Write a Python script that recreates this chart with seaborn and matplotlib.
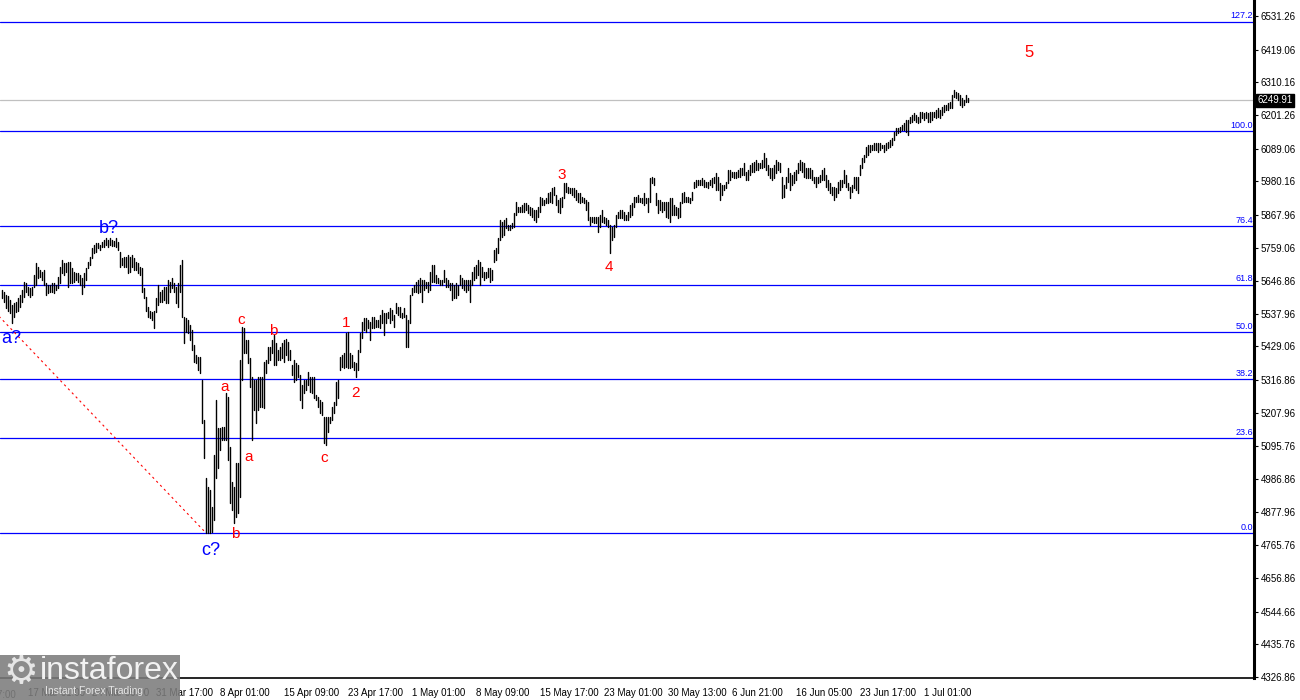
"""H4 Elliott wave chart with Fibonacci retracement grid (instaforex style)."""

import matplotlib
matplotlib.use("Agg")
import matplotlib.pyplot as plt
import matplotlib.transforms as mtransforms
from matplotlib.patches import Rectangle
import pandas as pd
import seaborn as sns

# ---- bar data (H4 highs / lows) ----
HIGH = [
    5618, 5612, 5601, 5597, 5584, 5567, 5573, 5579, 5590, 5601,
    5617, 5645, 5640, 5629, 5623, 5629, 5668, 5706, 5695, 5684,
    5679, 5684, 5640, 5634, 5634, 5640, 5640, 5634, 5662, 5695,
    5718, 5706, 5706, 5712, 5712, 5690, 5679, 5673, 5673, 5668,
    5656, 5673, 5690, 5712, 5729, 5756, 5768, 5773, 5773, 5768,
    5779, 5784, 5790, 5784, 5790, 5784, 5782, 5790, 5779, 5745,
    5723, 5729, 5729, 5734, 5729, 5734, 5723, 5712, 5706, 5695,
    5690, 5623, 5595, 5562, 5549, 5545, 5549, 5590, 5634, 5612,
    5616, 5629, 5629, 5651, 5645, 5656, 5640, 5629, 5640, 5701,
    5718, 5529, 5523, 5517, 5501, 5484, 5434, 5401, 5395, 5395,
    5317, 5184, 4990, 4961, 4950, 4895, 5067, 5251, 5156, 5156,
    5162, 5162, 5273, 5262, 5095, 4978, 4961, 5039, 5040, 5384,
    5494, 5491, 5450, 5450, 5391, 5327, 5317, 5317, 5327, 5327,
    5327, 5377, 5384, 5427, 5427, 5450, 5467, 5440, 5417, 5427,
    5440, 5450, 5454, 5444, 5417, 5367, 5384, 5374, 5367, 5334,
    5301, 5317, 5317, 5344, 5327, 5327, 5327, 5267, 5261, 5251,
    5244, 5194, 5194, 5194, 5194, 5227, 5244, 5311, 5317, 5394,
    5401, 5407, 5474, 5477, 5407, 5401, 5377, 5374, 5417, 5474,
    5511, 5524, 5524, 5517, 5511, 5527, 5527, 5517, 5517, 5534,
    5551, 5540, 5540, 5545, 5556, 5551, 5534, 5573, 5562, 5562,
    5540, 5556, 5534, 5517, 5601, 5623, 5634, 5645, 5651, 5656,
    5651, 5651, 5645, 5645, 5679, 5701, 5701, 5667, 5656, 5651,
    5651, 5684, 5656, 5651, 5640, 5640, 5634, 5640, 5634, 5667,
    5656, 5651, 5651, 5651, 5651, 5679, 5695, 5701, 5717, 5712,
    5695, 5679, 5679, 5690, 5690, 5684, 5751, 5756, 5790, 5851,
    5845, 5851, 5856, 5834, 5834, 5840, 5873, 5912, 5895, 5895,
    5901, 5906, 5906, 5901, 5895, 5890, 5884, 5884, 5895, 5929,
    5923, 5918, 5923, 5940, 5945, 5956, 5962, 5934, 5918, 5923,
    5929, 5973, 5973, 5962, 5956, 5956, 5956, 5951, 5940, 5940,
    5929, 5923, 5918, 5912, 5862, 5862, 5862, 5862, 5862, 5868,
    5884, 5862, 5856, 5851, 5834, 5829, 5834, 5868, 5879, 5884,
    5884, 5879, 5868, 5879, 5901, 5906, 5929, 5929, 5934, 5923,
    5923, 5940, 5923, 5923, 5990, 5995, 5990, 5940, 5918, 5918,
    5912, 5912, 5912, 5912, 5923, 5923, 5901, 5895, 5890, 5912,
    5940, 5945, 5929, 5929, 5923, 5945, 5979, 5984, 5984, 5984,
    5990, 5984, 5979, 5979, 5984, 5990, 5995, 6006, 5995, 5973,
    5968, 5968, 5979, 6018, 6018, 6012, 6012, 6012, 6018, 6023,
    6023, 6040, 6012, 6018, 6034, 6040, 6045, 6051, 6040, 6040,
    6051, 6073, 6057, 6034, 6023, 6023, 6034, 6051, 6045, 6040,
    5995, 5968, 5995, 6023, 6007, 6001, 6012, 6018, 6040, 6051,
    6045, 6040, 6023, 6023, 6023, 6018, 5995, 5995, 5995, 6001,
    6018, 6023, 6001, 5984, 5973, 5962, 5962, 5956, 5979, 5984,
    5984, 6018, 6001, 5973, 5962, 5968, 5995, 5995, 5995, 6034,
    6057, 6068, 6095, 6101, 6101, 6101, 6107, 6107, 6107, 6107,
    6101, 6101, 6107, 6112, 6118, 6123, 6145, 6157, 6157, 6162,
    6168, 6173, 6184, 6184, 6196, 6201, 6207, 6201, 6196, 6212,
    6212, 6207, 6212, 6207, 6212, 6212, 6212, 6218, 6223, 6218,
    6229, 6234, 6234, 6240, 6246, 6268, 6284, 6279, 6273, 6268,
    6257, 6251, 6268, 6257,
]
LOW = [
    5590, 5579, 5556, 5549, 5540, 5506, 5529, 5545, 5549, 5562,
    5579, 5595, 5612, 5601, 5595, 5601, 5629, 5634, 5656, 5662,
    5651, 5634, 5601, 5606, 5612, 5612, 5606, 5616, 5623, 5640,
    5673, 5668, 5679, 5629, 5640, 5640, 5645, 5651, 5645, 5634,
    5604, 5629, 5651, 5690, 5701, 5723, 5740, 5745, 5756, 5751,
    5762, 5762, 5768, 5762, 5768, 5764, 5764, 5762, 5751, 5695,
    5701, 5695, 5695, 5673, 5679, 5695, 5684, 5684, 5673, 5668,
    5612, 5590, 5549, 5529, 5523, 5517, 5490, 5545, 5567, 5579,
    5579, 5584, 5573, 5573, 5612, 5623, 5612, 5573, 5562, 5612,
    5529, 5440, 5478, 5473, 5451, 5417, 5378, 5373, 5351, 5339,
    5173, 5056, 4807, 4807, 4807, 4811, 4850, 4989, 5023, 5084,
    5117, 5117, 5117, 5050, 4906, 4884, 4839, 4861, 4874, 4927,
    5317, 5407, 5407, 5374, 5294, 5117, 5217, 5174, 5217, 5227,
    5227, 5224, 5341, 5374, 5384, 5407, 5367, 5367, 5384, 5384,
    5391, 5377, 5401, 5384, 5384, 5334, 5311, 5317, 5327, 5251,
    5224, 5274, 5284, 5301, 5277, 5274, 5257, 5251, 5227, 5207,
    5200, 5107, 5100, 5144, 5174, 5184, 5207, 5234, 5257, 5351,
    5361, 5357, 5361, 5357, 5357, 5361, 5351, 5327, 5351, 5411,
    5457, 5484, 5477, 5490, 5450, 5490, 5490, 5494, 5494, 5490,
    5507, 5467, 5507, 5523, 5507, 5517, 5495, 5540, 5534, 5528,
    5523, 5528, 5428, 5428, 5506, 5601, 5612, 5612, 5606, 5612,
    5579, 5617, 5623, 5612, 5617, 5645, 5645, 5640, 5640, 5634,
    5634, 5645, 5629, 5629, 5617, 5584, 5590, 5590, 5601, 5634,
    5623, 5617, 5612, 5617, 5579, 5634, 5651, 5656, 5667, 5634,
    5662, 5651, 5656, 5662, 5645, 5651, 5712, 5717, 5740, 5784,
    5795, 5801, 5823, 5817, 5817, 5823, 5829, 5868, 5879, 5879,
    5879, 5879, 5884, 5873, 5868, 5862, 5851, 5845, 5862, 5879,
    5901, 5901, 5906, 5906, 5912, 5906, 5934, 5901, 5879, 5873,
    5895, 5923, 5945, 5940, 5940, 5934, 5929, 5918, 5912, 5906,
    5912, 5906, 5884, 5851, 5834, 5845, 5840, 5840, 5812, 5829,
    5845, 5840, 5834, 5829, 5740, 5784, 5795, 5829, 5856, 5856,
    5856, 5851, 5851, 5851, 5862, 5868, 5895, 5912, 5912, 5912,
    5906, 5901, 5906, 5879, 5912, 5973, 5968, 5901, 5873, 5884,
    5879, 5884, 5862, 5856, 5845, 5868, 5868, 5868, 5856, 5862,
    5906, 5912, 5912, 5912, 5906, 5918, 5956, 5962, 5968, 5968,
    5968, 5962, 5962, 5956, 5968, 5962, 5973, 5951, 5951, 5918,
    5934, 5951, 5956, 5973, 5984, 5995, 5990, 5990, 5995, 5995,
    6001, 6001, 5984, 5984, 6001, 6012, 6012, 6018, 6018, 6023,
    6023, 6029, 6018, 6001, 5990, 5984, 5990, 6007, 6018, 6012,
    5923, 5929, 5956, 5979, 5951, 5968, 5973, 5984, 6007, 6018,
    6012, 5995, 5990, 5990, 5990, 5984, 5973, 5962, 5973, 5979,
    5984, 5984, 5962, 5951, 5940, 5934, 5918, 5929, 5940, 5951,
    5962, 5973, 5962, 5951, 5923, 5945, 5956, 5951, 5940, 6001,
    6023, 6045, 6062, 6068, 6079, 6084, 6084, 6084, 6079, 6084,
    6090, 6079, 6084, 6090, 6095, 6101, 6118, 6134, 6140, 6145,
    6151, 6151, 6145, 6134, 6173, 6179, 6184, 6179, 6173, 6179,
    6190, 6184, 6190, 6179, 6179, 6184, 6196, 6190, 6196, 6190,
    6201, 6212, 6218, 6218, 6223, 6223, 6262, 6257, 6251, 6234,
    6229, 6234, 6246, 6246,
]
LAST_PRICE = 6249.91

# Fibonacci grid: 0% at the April low, 100% at the February high
FIB_LOW = 4807.1
FIB_HIGH = 6147.7
FIB_RATIOS = [0.0, 23.6, 38.2, 50.0, 61.8, 76.4, 100.0, 127.2]
FIB_ANCHOR_BARS = [-89, 103]  # bar index of the high anchor and the low anchor

Y_TICKS = [4326.86, 4435.76, 4544.66, 4656.86, 4765.76, 4877.96, 4986.86,
           5095.76, 5207.96, 5316.86, 5429.06, 5537.96, 5646.86, 5759.06,
           5867.96, 5980.16, 6089.06, 6201.26, 6310.16, 6419.06, 6531.26]
X_TICK_BARS = [14, 46, 78, 110, 142, 174, 206, 238, 270, 302, 334, 366,
               398, 430, 462]
X_TICK_LABELS = ["17 Mar 01:00", "24 Mar 09:00", "31 Mar 17:00", "8 Apr 01:00",
                 "15 Apr 09:00", "23 Apr 17:00", "1 May 01:00", "8 May 09:00",
                 "15 May 17:00", "23 May 01:00", "30 May 13:00", "6 Jun 21:00",
                 "16 Jun 05:00", "23 Jun 17:00", "1 Jul 01:00"]

# wave marks: text, bar, price, colour, size
WAVES = [
    ("a?", 5.5, 5457, "#0000FF", 13), ("b?", 54.5, 5824, "#0000FF", 13),
    ("c?", 105.5, 4750, "#0000FF", 13),
    ("a", 112.5, 5294, "#FF0000", 11), ("b", 117.5, 4804, "#FF0000", 11),
    ("c", 120.5, 5517, "#FF0000", 11), ("a", 124.5, 5061, "#FF0000", 11),
    ("b", 136.5, 5481, "#FF0000", 11), ("c", 162, 5057, "#FF0000", 11),
    ("1", 173, 5507, "#FF0000", 11), ("2", 177.5, 5274, "#FF0000", 11),
    ("3", 281, 6001, "#FF0000", 11), ("4", 304.5, 5694, "#FF0000", 11),
    ("5", 514.5, 6411, "#FF0000", 12),
]

sns.set_style("white")
plt.rcParams["font.family"] = ["Liberation Sans", "DejaVu Sans"]

bars = pd.DataFrame({"bar": range(1, len(HIGH) + 1), "high": HIGH, "low": LOW})
long = bars.melt(id_vars="bar", value_vars=["low", "high"], value_name="price")

fig = plt.figure(figsize=(13, 7), dpi=100)
ax = fig.add_axes([0, 22 / 700, 1254 / 1300, 678 / 700])
ax.set_xlim(0, 627)
ax.set_ylim(4323.5, 6584.6)

# fib levels + labels
right = mtransforms.blended_transform_factory(ax.transAxes, ax.transData)
for r in FIB_RATIOS:
    lvl = FIB_LOW + r / 100 * (FIB_HIGH - FIB_LOW)
    ax.axhline(lvl, color="#0000FF", lw=0.9, zorder=1)
    ax.text(0.999, lvl + 4, f"{r:.1f}", transform=right, ha="right", va="bottom",
            color="#0000FF", fontsize=6.5)

ax.plot(FIB_ANCHOR_BARS, [FIB_HIGH, FIB_LOW], color="#FF0000", lw=0.8,
        ls=(0, (2, 3)), zorder=1)
ax.axhline(LAST_PRICE, color="#C0C0C0", lw=0.9, zorder=1)

# OHLC bars (high-low sticks)
sns.lineplot(data=long, x="bar", y="price", units="bar", estimator=None,
             color="black", linewidth=1.0, ax=ax, zorder=3)
ax.set_xlabel("")
ax.set_ylabel("")

for txt, b, p, col, fs in WAVES:
    ax.text(b, p, txt, color=col, fontsize=fs, ha="center", va="center", zorder=4)

# axes styling, MT4 look
for side in ("left", "top"):
    ax.spines[side].set_visible(False)
ax.spines["right"].set_linewidth(2.2)
ax.spines["bottom"].set_linewidth(1.2)
ax.spines["right"].set_color("black")
ax.spines["bottom"].set_color("black")

ax.yaxis.tick_right()
ax.set_yticks(Y_TICKS)
ax.set_yticklabels([f"{v:.2f}" for v in Y_TICKS])
ax.tick_params(axis="y", direction="out", length=3, width=0.8, pad=2,
               labelsize=7, colors="black", right=True, left=False)
ax.set_xticks(X_TICK_BARS)
ax.set_xticklabels(X_TICK_LABELS)
ax.tick_params(axis="x", direction="out", length=4, width=0.8, pad=3,
               labelsize=7, colors="black")
for lbl in ax.get_xticklabels():
    lbl.set_ha("left")
ax.text(-18, -0.018, "9 Mar 17:00", transform=mtransforms.blended_transform_factory(
    ax.transData, ax.transAxes), ha="left", va="top", fontsize=7, clip_on=False)

# current price tag
ax.text(1.0 + 3 / 1254, LAST_PRICE, "6249.91", transform=right, ha="left",
        va="center", color="white", fontsize=7,
        bbox=dict(boxstyle="square,pad=0.15", facecolor="black", edgecolor="black"))

# watermark
fig.add_artist(Rectangle((0, 0), 180 / 1300, 45 / 700, transform=fig.transFigure,
                         facecolor="#7c7c7c", alpha=0.88, edgecolor="none", zorder=10))
fig.text(21 / 1300, 1 - 672 / 700, "\u2699", fontsize=28, color="#e6e6e6",
         ha="center", va="center", family="DejaVu Sans", zorder=11)
fig.text(40 / 1300, 1 - 671 / 700, "instaforex", fontsize=23, color="#f2f2f2",
         ha="left", va="center", zorder=11)
fig.text(45 / 1300, 1 - 691 / 700, "Instant Forex Trading", fontsize=7.5,
         color="#e6e6e6", ha="left", va="center", zorder=11)

fig.savefig("out.png", dpi=100, facecolor="white")
